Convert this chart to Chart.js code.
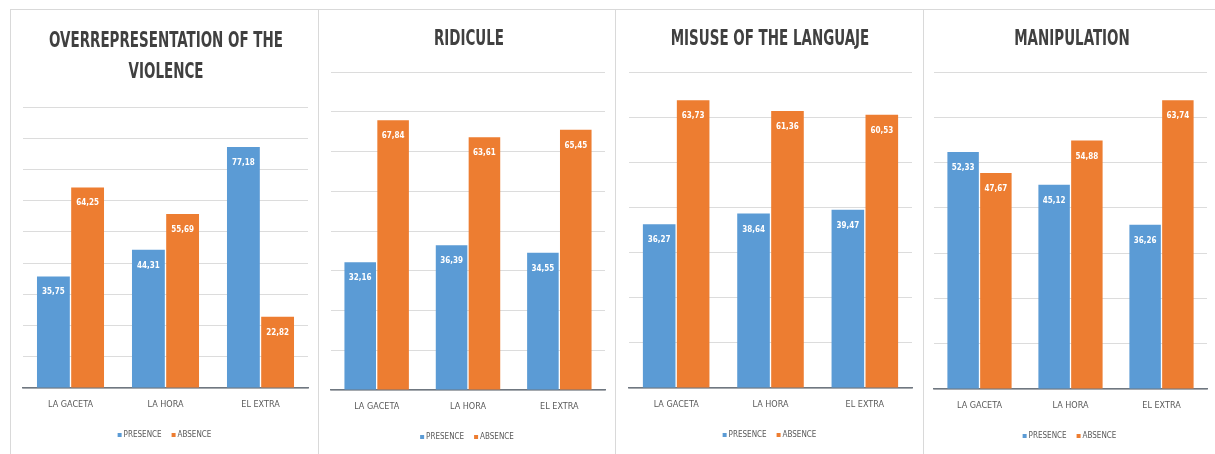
<!DOCTYPE html>
<html>
<head>
<meta charset="utf-8">
<script src="https://cdn.jsdelivr.net/npm/chart.js@4.4.1/dist/chart.umd.min.js"></script>
<style>
  html, body { margin: 0; padding: 0; background: #ffffff; }
  body { width: 1215px; height: 454px; position: relative; overflow: hidden; }
  .panel { position: absolute; top: 9px; height: 445px; border-top: 1px solid #d9d9d9; border-left: 1px solid #d9d9d9; box-sizing: border-box; }
  canvas { position: absolute; top: 0; left: 0; }
</style>
</head>
<body>
<script>
// ---------- DATA ----------
const CATEGORIES = ['LA GACETA', 'LA HORA', 'EL EXTRA'];
const SERIES_NAMES = ['PRESENCE', 'ABSENCE'];

const OVERREP_PRESENCE  = [35.75, 44.31, 77.18];
const OVERREP_ABSENCE   = [64.25, 55.69, 22.82];
const RIDICULE_PRESENCE = [32.16, 36.39, 34.55];
const RIDICULE_ABSENCE  = [67.84, 63.61, 65.45];
const MISUSE_PRESENCE   = [36.27, 38.64, 39.47];
const MISUSE_ABSENCE    = [63.73, 61.36, 60.53];
const MANIP_PRESENCE    = [52.33, 45.12, 36.26];
const MANIP_ABSENCE     = [47.67, 54.88, 63.74];

const TITLES = [
  ['OVERREPRESENTATION OF THE', 'VIOLENCE'],
  ['RIDICULE'],
  ['MISUSE OF THE LANGUAJE'],
  ['MANIPULATION']
];
const Y_MAX = [90, 80, 70, 70];
const Y_STEP = 10;

// ---------- STYLE / LAYOUT ----------
const COLORS = ['#5b9bd5', '#ed7d31'];
const FONT = "'Liberation Sans Narrow', 'DejaVu Sans Condensed', 'Liberation Sans', sans-serif";
const PANELS = [
  { left: 10,  width: 308, plotLeft: 12, plotRight: 10, plotTop: 97, baseline: 378, titleY: [31, 62], titleX: 155 },
  { left: 318, width: 297, plotLeft: 12, plotRight: 10, plotTop: 62, baseline: 380, titleY: [29], titleX: 150 },
  { left: 615, width: 308, plotLeft: 13, plotRight: 11, plotTop: 62, baseline: 378, titleY: [29], titleX: 154 },
  { left: 923, width: 292, plotLeft: 10, plotRight: 8,  plotTop: 62, baseline: 379, titleY: [29], titleX: 148 }
];
const CANVAS_H = 444;
const X_AXIS_H = 50;

const SERIES = [
  [OVERREP_PRESENCE, OVERREP_ABSENCE],
  [RIDICULE_PRESENCE, RIDICULE_ABSENCE],
  [MISUSE_PRESENCE, MISUSE_ABSENCE],
  [MANIP_PRESENCE, MANIP_ABSENCE]
];

const decorPlugin = {
  id: 'decor',
  beforeDraw(chart) {
    const ctx = chart.ctx;
    ctx.save();
    ctx.fillStyle = '#ffffff';
    ctx.fillRect(0, 0, chart.width, chart.height);
    ctx.restore();
  },
  afterDatasetsDraw(chart) {
    const ctx = chart.ctx;
    ctx.save();
    ctx.fillStyle = '#ffffff';
    ctx.font = "bold 8px " + FONT;
    ctx.textAlign = 'center';
    ctx.textBaseline = 'middle';
    chart.data.datasets.forEach((ds, di) => {
      const meta = chart.getDatasetMeta(di);
      meta.data.forEach((el, i) => {
        const txt = ds.data[i].toFixed(2).replace('.', ',');
        ctx.fillText(txt, el.x, el.y + 16);
      });
    });
    ctx.restore();
  },
  afterDraw(chart) {
    const o = chart.options.plugins.decor;
    const ctx = chart.ctx;
    ctx.save();
    // title
    ctx.fillStyle = '#404040';
    ctx.font = "bold 22px " + FONT;
    ctx.textAlign = 'center';
    ctx.textBaseline = 'middle';
    o.title.forEach((line, i) => {
      ctx.save();
      ctx.translate(o.titleX, o.titleY[i]);
      ctx.scale(o.titleScale, 1);
      ctx.fillText(line, 0, 0);
      ctx.restore();
    });
    // legend
    ctx.font = "8px " + FONT;
    ctx.textBaseline = 'middle';
    ctx.textAlign = 'left';
    const items = chart.data.datasets.map(d => ({ label: d.label, color: d.backgroundColor }));
    const box = 4, gap = 2, between = 10;
    let total = 0;
    items.forEach((it, i) => { total += box + gap + ctx.measureText(it.label).width + (i ? between : 0); });
    let x = chart.width / 2 - total / 2;
    const y = o.legendY;
    items.forEach((it, i) => {
      if (i) x += between;
      ctx.fillStyle = it.color;
      ctx.fillRect(x, y - box / 2, box, box);
      x += box + gap;
      ctx.fillStyle = '#595959';
      ctx.fillText(it.label, x, y);
      x += ctx.measureText(it.label).width;
    });
    ctx.restore();
  }
};

PANELS.forEach((p, idx) => {
  const div = document.createElement('div');
  div.className = 'panel';
  div.style.left = p.left + 'px';
  div.style.width = p.width + 'px';
  document.body.appendChild(div);
  const cv = document.createElement('canvas');
  cv.width = p.width - 1;
  cv.height = CANVAS_H;
  cv.style.left = '0px';
  cv.style.top = '0px';
  div.appendChild(cv);

  new Chart(cv.getContext('2d'), {
    type: 'bar',
    data: {
      labels: CATEGORIES,
      datasets: SERIES_NAMES.map((name, s) => ({
        label: name,
        data: SERIES[idx][s],
        backgroundColor: COLORS[s],
        borderWidth: 0,
        barPercentage: 0.96,
        categoryPercentage: 0.72
      }))
    },
    options: {
      responsive: false,
      animation: false,
      devicePixelRatio: 1,
      layout: {
        padding: {
          left: p.plotLeft,
          right: p.plotRight,
          top: p.plotTop,
          bottom: CANVAS_H - p.baseline - X_AXIS_H
        }
      },
      plugins: {
        legend: { display: false },
        title: { display: false },
        tooltip: { enabled: false },
        decor: { title: TITLES[idx], titleX: p.titleX, titleY: p.titleY, titleScale: 0.68, legendY: p.baseline + 47 }
      },
      scales: {
        x: {
          grid: { display: false, drawTicks: false },
          border: { display: true, color: '#6f7780', width: 1.5 },
          ticks: { color: '#595959', font: { family: FONT, size: 9 }, padding: 11, maxRotation: 0 },
          afterFit: s => { s.height = X_AXIS_H; }
        },
        y: {
          min: 0,
          max: Y_MAX[idx],
          ticks: { display: false, stepSize: Y_STEP },
          grid: { color: '#dcdcdc', lineWidth: 1, drawTicks: false },
          border: { display: false },
          afterFit: s => { s.width = 0; }
        }
      }
    },
    plugins: [decorPlugin]
  });
});
</script>
</body>
</html>
